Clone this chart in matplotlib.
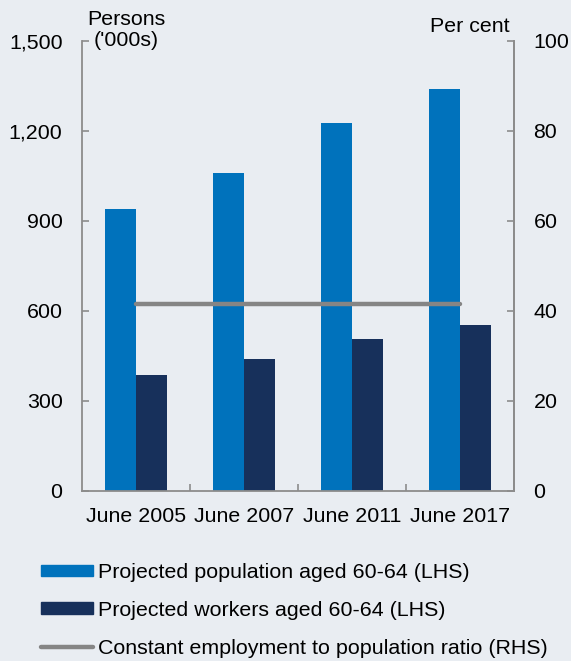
import numpy as np
import matplotlib
matplotlib.use('Agg')
import matplotlib.pyplot as plt
from matplotlib.patches import Patch
from matplotlib.lines import Line2D

# Données
categories = ['June 2005', 'June 2007', 'June 2011', 'June 2017']
population = [938, 1058, 1225, 1338]      # milliers, axe gauche
workers = [386, 439, 506, 552]            # milliers, axe gauche
ratio = [41.5, 41.5, 41.5, 41.5]          # pour cent, axe droit

bg = '#E9EDF2'
c_pop = '#0072BC'
c_work = '#17305B'
c_line = '#858585'
c_spine = '#8C8C8C'

plt.rcParams['font.family'] = ['Liberation Sans', 'DejaVu Sans']
fs = 15.4

fig = plt.figure(figsize=(5.71, 6.61), dpi=100, facecolor=bg)
ax = fig.add_axes([82/571, 1 - 490.7/661, 432/571, 450/661])
ax.set_facecolor(bg)

x = np.arange(len(categories))
w = 0.29
ax.bar(x - w/2, population, w, color=c_pop, zorder=2)
ax.bar(x + w/2, workers, w, color=c_work, zorder=2)

ax.set_xlim(-0.5, len(categories) - 0.5)
ax.set_ylim(0, 1500)
ax.set_yticks([0, 300, 600, 900, 1200, 1500])
ax.set_yticklabels(['0', '300', '600', '900', '1,200', '1,500'])
ax.set_xticks(x)
ax.set_xticklabels(categories)
ax.set_xticks(x[:-1] + 0.5, minor=True)
ax.tick_params(axis='x', which='major', length=0, pad=11.5, labelsize=fs)
ax.tick_params(axis='x', which='minor', direction='in', length=5, color=c_spine, width=1.2)
ax.tick_params(axis='y', direction='in', length=5, color=c_spine, width=1.2, pad=14, labelsize=fs)

for s in ['left', 'bottom', 'right']:
    ax.spines[s].set_color(c_spine)
    ax.spines[s].set_linewidth(1.3)
ax.spines['top'].set_visible(False)

# Axe droit
ax2 = ax.twinx()
ax2.plot(x, ratio, color=c_line, lw=3.2, solid_capstyle='round', zorder=3)
ax2.set_ylim(0, 100)
ax2.set_yticks([0, 20, 40, 60, 80, 100])
ax2.tick_params(axis='y', direction='in', length=5, color=c_spine, width=1.2, pad=14, labelsize=fs)
for s in ['left', 'bottom', 'top']:
    ax2.spines[s].set_visible(False)
ax2.spines['right'].set_color(c_spine)
ax2.spines['right'].set_linewidth(1.3)

# Titres des axes
fig.text(126/571, 1 - 10/661, "Persons\n('000s)", ha='center', va='top', fontsize=fs,
         linespacing=1.12)
fig.text(470/571, 1 - 27/661, 'Per cent', ha='center', va='center', fontsize=fs)

# Légende
handles = [Patch(color=c_pop), Patch(color=c_work),
           Line2D([0], [0], color=c_line, lw=3.2, solid_capstyle='round')]
labels = ['Projected population aged 60-64 (LHS)',
          'Projected workers aged 60-64 (LHS)',
          'Constant employment to population ratio (RHS)']
fig.legend(handles, labels, loc='upper left', bbox_to_anchor=(41/571, 1 - 563/661),
           frameon=False, fontsize=fs, borderpad=0, borderaxespad=0,
           handlelength=2.45, handleheight=0.45, handletextpad=0.22, labelspacing=0.88)

fig.savefig('out.png', dpi=100, facecolor=bg)
